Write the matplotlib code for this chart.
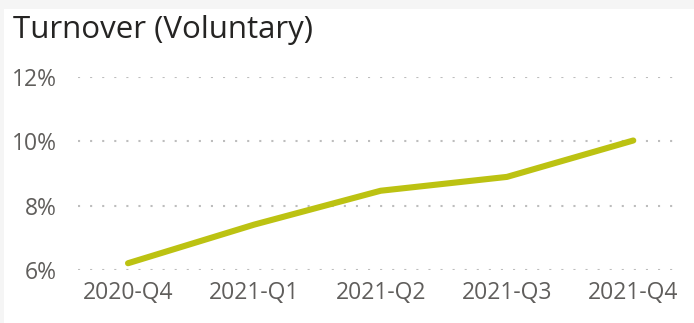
import matplotlib.pyplot as plt
from matplotlib.patches import Rectangle
from matplotlib.ticker import FuncFormatter

# Voluntary turnover rate by quarter (%)
quarters = ['2020-Q4', '2021-Q1', '2021-Q2', '2021-Q3', '2021-Q4']
turnover = [6.21, 7.41, 8.46, 8.89, 10.02]
y_ticks = [6, 8, 10, 12]

plt.rcParams['font.family'] = ['Open Sans', 'DejaVu Sans']

fig = plt.figure(figsize=(6.94, 3.23), dpi=100)
fig.patch.set_facecolor('#f5f5f5')
# white card behind the visual
fig.add_artist(Rectangle((4 / 694, 0), 1, 1 - 9 / 323, transform=fig.transFigure,
                         facecolor='white', edgecolor='none', zorder=0))

ax = fig.add_axes([78 / 694, 53 / 323, 602 / 694, 193.3 / 323])
ax.set_facecolor('none')

x = list(range(len(quarters)))
ax.plot(x, turnover, color='#bcc212', lw=4.4, solid_capstyle='round',
        solid_joinstyle='round', clip_on=False, zorder=3)

ax.set_xlim(-0.396, 4.37)
ax.set_ylim(6, 12)
ax.set_xticks(x)
ax.set_xticklabels(quarters)
ax.set_yticks(y_ticks)
ax.yaxis.set_major_formatter(FuncFormatter(lambda v, p: f'{v:.0f}%'))

ax.tick_params(axis='both', length=0, labelsize=16.5, labelcolor='#605e5c')
ax.tick_params(axis='y', pad=15)
ax.tick_params(axis='x', pad=8)
ax.grid(axis='y', color='#bdbdbd', lw=1.5, linestyle=(0, (1, 4.8)))
ax.grid(axis='x', visible=False)
for s in ax.spines.values():
    s.set_visible(False)

fig.text(13 / 694, 1 - 38 / 323, 'Turnover (Voluntary)', fontsize=22.5,
         color='#252423', ha='left', va='baseline')

fig.savefig('out.png', dpi=100, facecolor=fig.get_facecolor())
